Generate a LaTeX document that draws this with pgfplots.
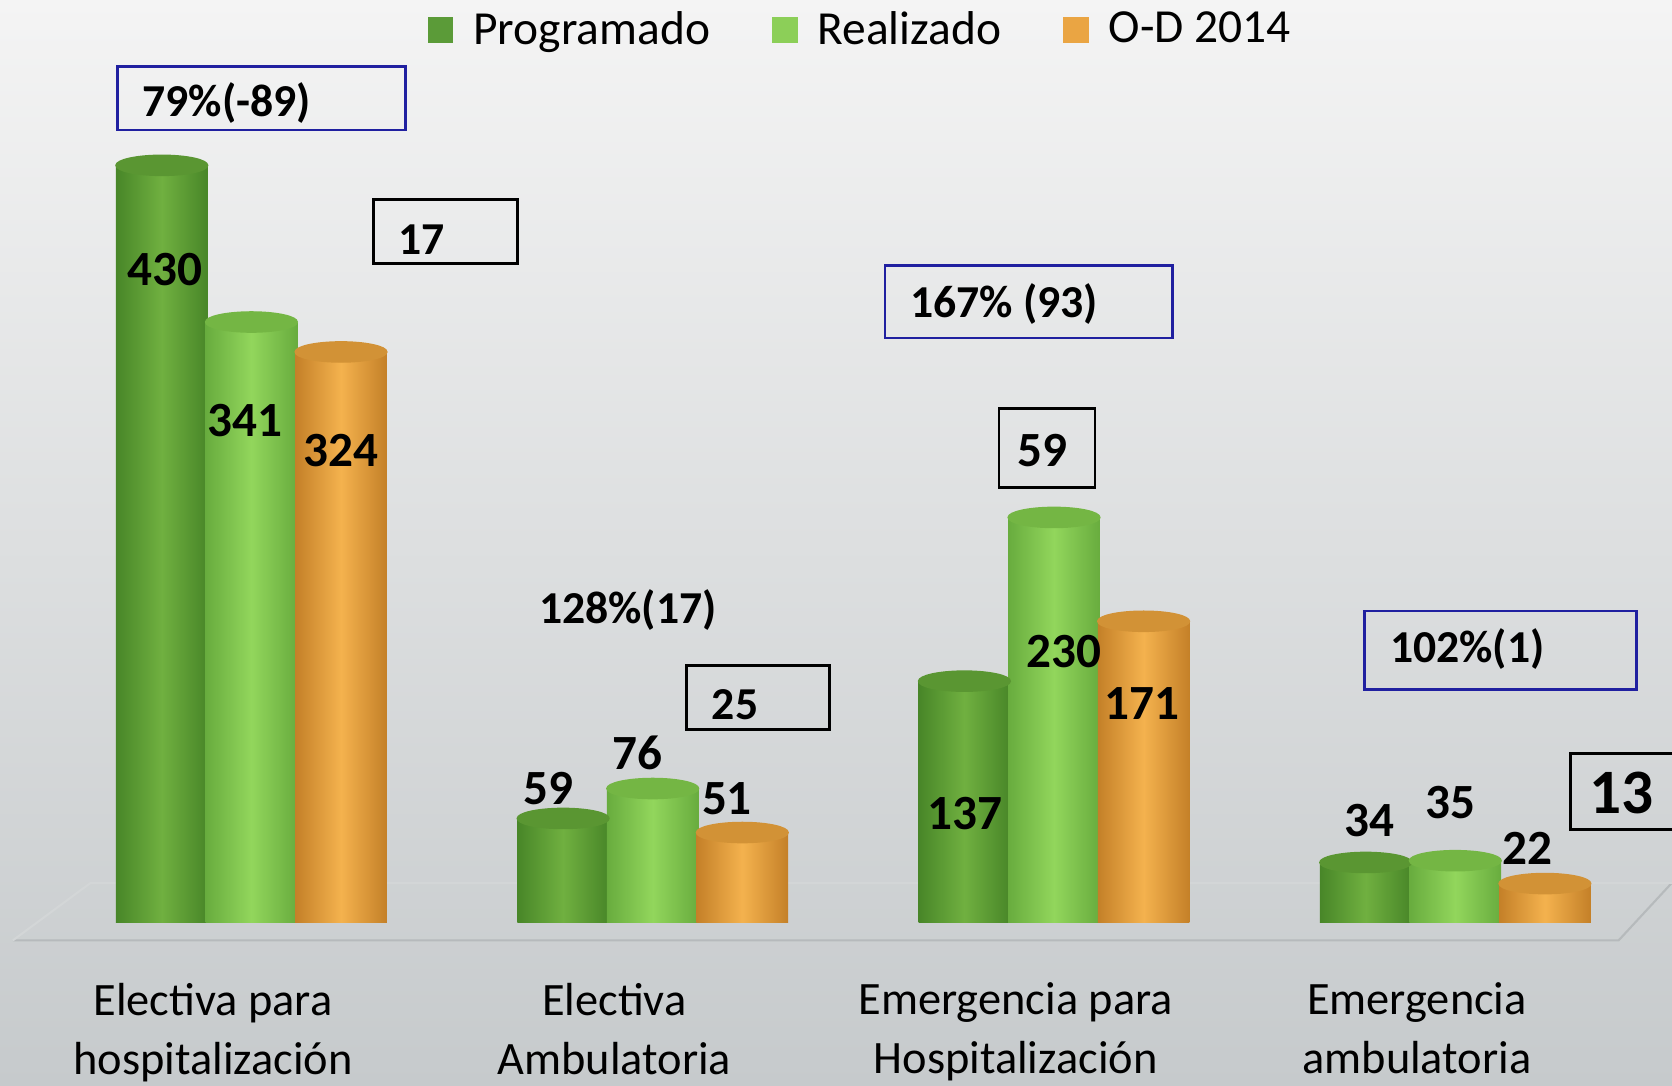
\documentclass[border=0pt]{standalone}
\usepackage{pgfplots}
\pgfplotsset{compat=1.18}
\usepackage{fontspec}
\setmainfont{Carlito}
\definecolor{progE}{RGB}{72,134,40}
\definecolor{progM}{RGB}{112,176,64}
\definecolor{progT}{RGB}{90,150,50}
\definecolor{realE}{RGB}{104,172,62}
\definecolor{realM}{RGB}{146,214,92}
\definecolor{realT}{RGB}{116,182,68}
\definecolor{odE}{RGB}{196,128,40}
\definecolor{odM}{RGB}{244,178,78}
\definecolor{odT}{RGB}{210,146,54}
\definecolor{progL}{RGB}{91,155,56}
\definecolor{realLg}{RGB}{140,207,88}
\definecolor{odL}{RGB}{234,165,67}
\definecolor{boxblue}{RGB}{32,32,160}
\definecolor{bgtop}{RGB}{244,244,244}
\definecolor{bgbot}{RGB}{198,202,204}
\definecolor{floorc}{RGB}{182,186,188}
\pgfplotsset{
  prog/.style={ybar, bar width=9.17mm, bar shift=-8.96mm, draw=none, left color=progE, right color=progE, middle color=progM, forget plot},
  real/.style={ybar, bar width=9.17mm, bar shift=0mm, draw=none, left color=realE, right color=realE, middle color=realM, forget plot},
  od/.style={ybar, bar width=9.17mm, bar shift=8.96mm, draw=none, left color=odE, right color=odE, middle color=odM, forget plot},
  progtop/.style={only marks, mark=*, mark size=4.585mm, mark options={xshift=-8.96mm, yscale=0.22, fill=progT, draw=progT}, forget plot},
  realtop/.style={only marks, mark=*, mark size=4.585mm, mark options={yscale=0.22, fill=realT, draw=realT}, forget plot},
  odtop/.style={only marks, mark=*, mark size=4.585mm, mark options={xshift=8.96mm, yscale=0.22, fill=odT, draw=odT}, forget plot},
}
\begin{document}
\begin{tikzpicture}
\fill[top color=bgtop, bottom color=bgbot] (0,0) rectangle (167.2mm,108.5mm);
\useasboundingbox (0,0) rectangle (167.2mm,108.5mm);
\begin{scope}[shift={(0,108.5mm)}, x=0.10663mm, y=-0.10663mm]
  \draw[floorc, line width=0.6pt] (12,882) -- (1518,882) -- (1568,828);
  \draw[floorc!60!white, line width=0.6pt] (12,882) -- (85,828) -- (1568,828);
\end{scope}
\begin{axis}[
  at={(1.066mm,16.27mm)}, anchor=south west,
  scale only axis, width=166.13mm, height=88.02mm,
  xmin=-0.6, xmax=3.54, ymin=0, ymax=500,
  axis line style={draw=none}, ytick=\empty,
  xtick={0,1,2,3},
  xticklabels={{Electiva para\\hospitalización},{Electiva\\Ambulatoria},{Emergencia para\\Hospitalización},{Emergencia\\ambulatoria}},
  major tick length=0pt,
  xticklabel style={font=\fontsize{13.2}{16.8}\selectfont, align=center, inner sep=0pt, xshift=-3.84mm, yshift=-6mm},
  clip=false,
  legend style={at={(0.513,1.052)}, anchor=north, legend columns=3, draw=none, fill=none,
    font=\fontsize{13.5}{16}\selectfont,
    /tikz/every odd column/.append style={column sep=1.3mm},
    /tikz/every even column/.append style={column sep=5.5mm}},
  legend image code/.code={\fill[draw=none,#1] (0mm,-1.28mm) rectangle (2.56mm,1.28mm);},
]
% Programado
\addplot[prog] coordinates {(0,430)};
\addplot[prog] coordinates {(1,59)};
\addplot[prog] coordinates {(2,137)};
\addplot[prog] coordinates {(3,34)};
% Realizado
\addplot[real] coordinates {(0,341)};
\addplot[real] coordinates {(1,76)};
\addplot[real] coordinates {(2,230)};
\addplot[real] coordinates {(3,35)};
% O-D 2014
\addplot[od] coordinates {(0,324)};
\addplot[od] coordinates {(1,51)};
\addplot[od] coordinates {(2,171)};
\addplot[od] coordinates {(3,22)};
% cylinder tops
\addplot[progtop] coordinates {(0,430) (1,59) (2,137) (3,34)};
\addplot[realtop] coordinates {(0,341) (1,76) (2,230) (3,35)};
\addplot[odtop] coordinates {(0,324) (1,51) (2,171) (3,22)};
\addlegendimage{fill=progL, draw=none}\addlegendentry{Programado}
\addlegendimage{fill=realLg, draw=none}\addlegendentry{Realizado}
\addlegendimage{fill=odL, draw=none}\addlegendentry{O-D 2014}
\begin{scope}[every node/.style={font=\bfseries\fontsize{14}{14}\selectfont}]
\node at (axis cs:-0.215,371) {430};
\node at (axis cs:-0.016,285) {341};
\node at (axis cs:0.223,268) {324};
\node at (axis cs:0.741,76) {59};
\node at (axis cs:0.961,96) {76};
\node at (axis cs:1.185,70) {51};
\node at (axis cs:1.777,62) {137};
\node at (axis cs:2.024,154) {230};
\node at (axis cs:2.220,124) {171};
\node at (axis cs:2.786,58) {34};
\node at (axis cs:2.988,68) {35};
\node at (axis cs:3.179,42) {22};
\end{scope}
\end{axis}
\begin{scope}[shift={(0,108.5mm)}, x=0.10663mm, y=-0.10663mm, every node/.style={font=\bfseries\fontsize{13}{13}\selectfont}]
  \draw[boxblue, line width=0.8pt] (110,62) rectangle (380,122);
  \node[anchor=west] at (122,97) {79\%(-89)};
  \draw[black, line width=0.8pt] (350,187) rectangle (485,247);
  \node[anchor=west] at (362,225) {17};
  \draw[boxblue, line width=0.8pt] (830,249) rectangle (1100,317);
  \node[anchor=west] at (842,285) {167\% (93)};
  \draw[black, line width=0.8pt] (937,383) rectangle (1027,457);
  \node[font=\bfseries\fontsize{14}{14}\selectfont] at (978,423) {59};
  \node[anchor=west] at (494,572) {128\%(17)};
  \draw[black, line width=0.8pt] (644,624) rectangle (778,684);
  \node[anchor=west] at (656,661) {25};
  \draw[boxblue, line width=0.8pt] (1280,573) rectangle (1535,647);
  \node[anchor=west] at (1292,609) {102\%(1)};
  \draw[black, line width=0.8pt] (1473,707) rectangle (1590,778);
  \node[font=\bfseries\fontsize{18}{18}\selectfont] at (1521,744) {13};
\end{scope}
\end{tikzpicture}
\end{document}
